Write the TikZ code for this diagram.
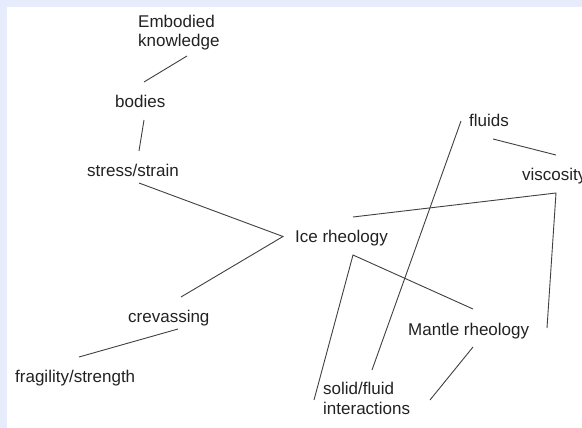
\documentclass[tikz,border=0pt]{standalone}
\usepackage{fontspec}
\setmainfont{Liberation Sans}
\usetikzlibrary{calc}
\definecolor{frameColor}{HTML}{E6ECFB}
\definecolor{inkColor}{HTML}{222222}
\tikzset{concept/.style={anchor=base west, inner sep=0pt, align=left, text=inkColor,
		font=\fontsize{17}{19.5}\selectfont}}
\tikzset{link/.style={draw=black!75, line width=0.9pt}}
\begin{document}
\begin{tikzpicture}[x=1pt,y=-1pt]
	\useasboundingbox (0,0) rectangle (582,428);
	\fill[frameColor] (0,0) rectangle (582,428);
	\fill[white] (7,7) rectangle (582,428);
	% concepts (two-line ones sit on their last line)
	\node[concept] at (138,47)  (emb)    {Embodied\\knowledge};
	\node[concept] at (115,108) (bod)    {bodies};
	\node[concept] at (87,176)  (stress) {stress/strain};
	\node[concept] at (295,242) (ice)    {Ice rheology};
	\node[concept] at (128,322) (crev)   {crevassing};
	\node[concept] at (15,382)  (frag)   {fragility/strength};
	\node[concept] at (469,127) (fluids) {fluids};
	\node[concept] at (522,181) (visc)   {viscosity};
	\node[concept] at (408,335) (mantle) {Mantle rheology};
	\node[concept] at (323,414) (solid)  {solid/fluid\\interactions};
	% links
	\draw[link] ($(emb.base west)+(49,9)$) -- ($(bod.base west)+(29,-26)$);
	\draw[link] ($(bod.base west)+(29,12)$) -- ($(stress.base west)+(52,-25)$);
	\draw[link] ($(stress.base west)+(52,7)$) -- ($(ice.base west)+(-12,-5.5)$)
		-- ($(crev.base west)+(53,-25)$);
	\draw[link] ($(crev.base west)+(50,7)$) -- ($(frag.base west)+(64,-25)$);
	\draw[link] ($(fluids.base west)+(-8,-6)$) -- ($(solid.base west)+(49,-44)$);
	\draw[link] ($(fluids.base west)+(24,12)$) -- ($(visc.base west)+(34,-26)$);
	\draw[link] ($(ice.base west)+(58,-25)$) -- ($(visc.base west)+(34,12)$)
		-- ($(mantle.base west)+(139,-7)$);
	\draw[link] ($(solid.base west)+(-9,-14)$) -- ($(ice.base west)+(58,13)$)
		-- ($(mantle.base west)+(65,-26)$);
	\draw[link] ($(mantle.base west)+(65,12)$) -- ($(solid.base west)+(107,-14)$);
\end{tikzpicture}
\end{document}
